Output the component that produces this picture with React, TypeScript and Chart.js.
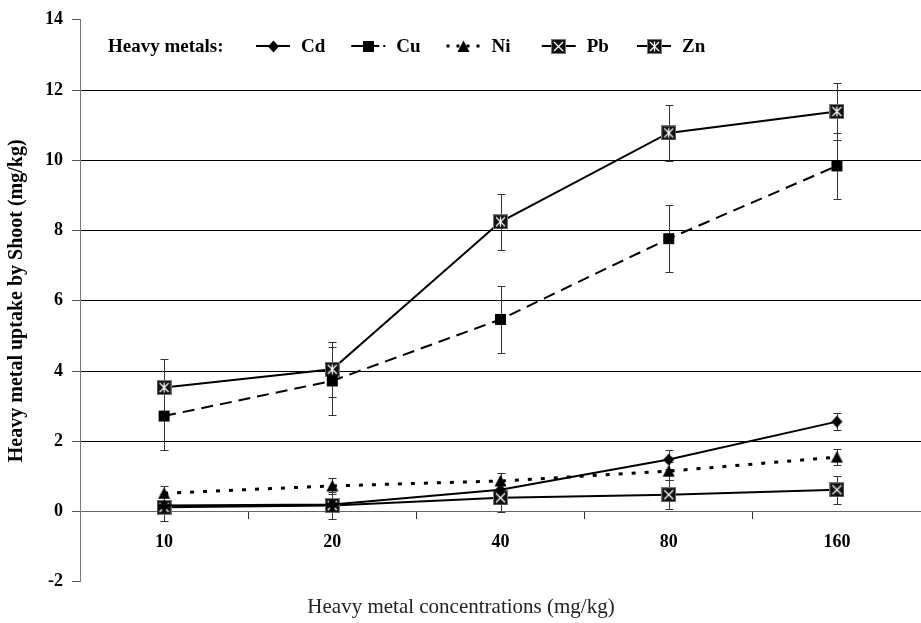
import React, { useEffect, useRef } from 'react';
import { Chart, registerables } from 'chart.js';

Chart.register(...registerables);

const categories = ['10', '20', '40', '80', '160'];
const seriesNames = ['Cd', 'Cu', 'Ni', 'Pb', 'Zn'];

const cdValues = [0.17, 0.2, 0.62, 1.48, 2.56];
const cdErrors = [0.08, 0.1, 0.15, 0.28, 0.25];
const cuValues = [2.72, 3.72, 5.47, 7.77, 9.84];
const cuErrors = [0.98, 0.97, 0.95, 0.96, 0.95];
const niValues = [0.52, 0.73, 0.87, 1.15, 1.55];
const niErrors = [0.2, 0.22, 0.24, 0.25, 0.22];
const pbValues = [0.12, 0.17, 0.39, 0.48, 0.62];
const pbErrors = [0.39, 0.38, 0.4, 0.42, 0.4];
const znValues = [3.53, 4.05, 8.25, 10.78, 11.39];
const znErrors = [0.8, 0.79, 0.8, 0.8, 0.82];

const yTickValues = [-2, 0, 2, 4, 6, 8, 10, 12, 14];

const legendTitle = 'Heavy metals:';
const xTitle = 'Heavy metal concentrations (mg/kg)';
const yTitle = 'Heavy metal uptake by Shoot (mg/kg)';

const SERIF = '"Liberation Serif", "Times New Roman", serif';

function makeMarker(kind: string): HTMLCanvasElement {
  const size = kind === 'pb' || kind === 'zn' ? 15 : 13;
  const c = document.createElement('canvas');
  c.width = size;
  c.height = size;
  const g = c.getContext('2d')!;
  const m = size / 2;
  g.fillStyle = '#000';
  if (kind === 'diamond') {
    g.beginPath();
    g.moveTo(m, 0.5);
    g.lineTo(size - 1, m);
    g.lineTo(m, size - 0.5);
    g.lineTo(1, m);
    g.closePath();
    g.fill();
  } else if (kind === 'square') {
    g.fillRect(1, 1, size - 2, size - 2);
  } else if (kind === 'triangle') {
    g.beginPath();
    g.moveTo(m, 0.5);
    g.lineTo(size - 0.5, size - 1);
    g.lineTo(0.5, size - 1);
    g.closePath();
    g.fill();
  } else {
    g.fillStyle = '#111';
    g.fillRect(0, 0, size, size);
    g.strokeStyle = '#777';
    g.lineWidth = 1;
    g.strokeRect(0.5, 0.5, size - 1, size - 1);
    g.strokeStyle = '#fff';
    g.lineWidth = 1.2;
    g.beginPath();
    g.moveTo(3, 3);
    g.lineTo(size - 3, size - 3);
    g.moveTo(size - 3, 3);
    g.lineTo(3, size - 3);
    if (kind === 'zn') {
      g.moveTo(m, 2.5);
      g.lineTo(m, size - 2.5);
    }
    g.stroke();
  }
  return c;
}

const errorBarPlugin = {
  id: 'errorBars',
  beforeDatasetsDraw(chart: any) {
    const ctx = chart.ctx;
    const yScale = chart.scales.y;
    ctx.save();
    ctx.strokeStyle = '#333';
    ctx.lineWidth = 1;
    chart.data.datasets.forEach((ds: any, i: number) => {
      const meta = chart.getDatasetMeta(i);
      meta.data.forEach((pt: any, j: number) => {
        const v = ds.data[j];
        const e = ds.errors[j];
        const x = Math.round(pt.x) + 0.5;
        const yTop = Math.round(yScale.getPixelForValue(v + e)) + 0.5;
        const yBot = Math.round(yScale.getPixelForValue(v - e)) + 0.5;
        ctx.beginPath();
        ctx.moveTo(x, yTop);
        ctx.lineTo(x, yBot);
        ctx.moveTo(x - 4, yTop);
        ctx.lineTo(x + 4, yTop);
        ctx.moveTo(x - 4, yBot);
        ctx.lineTo(x + 4, yBot);
        ctx.stroke();
      });
    });
    ctx.restore();
  },
};

const legendPlugin = {
  id: 'inlineLegend',
  afterDraw(chart: any) {
    const ctx = chart.ctx;
    ctx.save();
    ctx.font = `bold 19px ${SERIF}`;
    ctx.fillStyle = '#000';
    ctx.textBaseline = 'middle';
    const y = 46;
    ctx.fillText(legendTitle, 108, y + 1);
    let x = 256;
    chart.data.datasets.forEach((ds: any) => {
      ctx.strokeStyle = '#000';
      ctx.lineWidth = ds.borderWidth;
      ctx.setLineDash(ds.legendDash || []);
      ctx.beginPath();
      ctx.moveTo(x, y);
      ctx.lineTo(x + 34, y);
      ctx.stroke();
      ctx.setLineDash([]);
      const m = ds.pointStyle;
      ctx.drawImage(m, Math.round(x + 17 - m.width / 2), Math.round(y - m.height / 2));
      ctx.fillText(ds.label, x + 45, y + 1);
      x += 95.25;
    });
    ctx.restore();
  },
};

export default function App() {
  const canvasRef = useRef<HTMLCanvasElement | null>(null);

  useEffect(() => {
    if (!canvasRef.current) return;
    const markers = {
      diamond: makeMarker('diamond'),
      square: makeMarker('square'),
      triangle: makeMarker('triangle'),
      pb: makeMarker('pb'),
      zn: makeMarker('zn'),
    };
    const base = {
      borderColor: '#000',
      backgroundColor: '#000',
      pointRadius: 6,
      fill: false,
      tension: 0,
    };
    const chart = new Chart(canvasRef.current, {
      type: 'line',
      data: {
        labels: categories,
        datasets: [
          { ...base, label: seriesNames[0], data: cdValues, errors: cdErrors, borderWidth: 2, pointStyle: markers.diamond },
          { ...base, label: seriesNames[1], data: cuValues, errors: cuErrors, borderWidth: 2, borderDash: [12, 7], legendDash: [12, 4], pointStyle: markers.square },
          { ...base, label: seriesNames[2], data: niValues, errors: niErrors, borderWidth: 3, borderDash: [4, 9], legendDash: [3, 7], pointStyle: markers.triangle },
          { ...base, label: seriesNames[3], data: pbValues, errors: pbErrors, borderWidth: 2, pointStyle: markers.pb },
          { ...base, label: seriesNames[4], data: znValues, errors: znErrors, borderWidth: 2, pointStyle: markers.zn },
        ] as any,
      },
      options: {
        responsive: false,
        animation: false,
        events: [],
        layout: { autoPadding: false, padding: { top: 14, right: -1, bottom: 0, left: 0 } },
        plugins: {
          legend: { display: false },
          tooltip: { enabled: false },
          title: {
            display: true,
            position: 'bottom',
            text: xTitle,
            color: '#222',
            font: { family: SERIF, size: 21, weight: 'normal' },
            padding: { top: 13, bottom: 3 },
          },
        },
        scales: {
          x: {
            type: 'category',
            position: { y: 0 } as any,
            offset: true,
            afterFit: (s: any) => {
              s.paddingLeft = 0;
              s.paddingRight = 0;
            },
            grid: {
              offset: true,
              drawOnChartArea: false,
              drawTicks: true,
              tickLength: 7,
              tickColor: '#333',
            },
            border: { display: true, color: '#666', width: 1 },
            ticks: {
              color: '#000',
              font: { family: SERIF, size: 18, weight: 'bold' },
              padding: 13,
              maxRotation: 0,
            },
          },
          y: {
            min: -2,
            max: 14,
            afterBuildTicks: (s: any) => {
              s.ticks = yTickValues.map((v) => ({ value: v }));
            },
            afterFit: (s: any) => {
              s.width = 80;
            },
            grid: {
              color: (c: any) =>
                c.tick && c.tick.value > -2 && c.tick.value < 14 && c.tick.value !== 0 ? '#000' : 'rgba(0,0,0,0)',
              tickColor: '#555',
              tickLength: 8,
              lineWidth: 1,
            },
            border: { display: true, color: '#777', width: 1 },
            ticks: {
              color: '#000',
              font: { family: SERIF, size: 18, weight: 'bold' },
              padding: 9,
            },
            title: {
              display: true,
              text: yTitle,
              color: '#000',
              font: { family: SERIF, size: 20, weight: 'bold' },
              padding: { top: 5, bottom: 0 },
            },
          },
        },
      },
      plugins: [errorBarPlugin, legendPlugin],
    } as any);
    return () => chart.destroy();
  }, []);

  return (
    <div style={{ position: 'absolute', left: 0, top: 0, width: 921, height: 623, background: '#fff' }}>
      <canvas ref={canvasRef} width={921} height={623} />
    </div>
  );
}
